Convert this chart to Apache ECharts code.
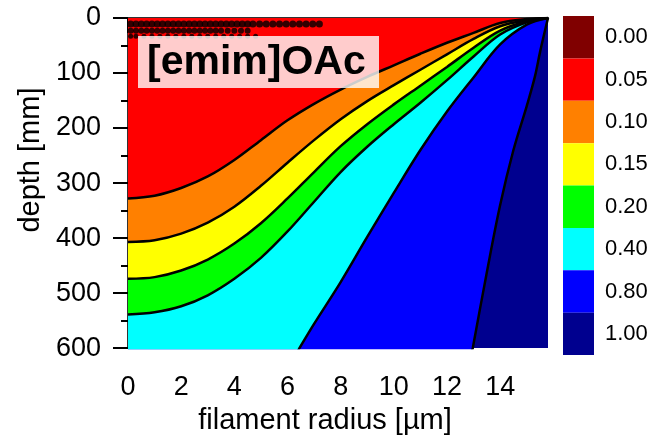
<!DOCTYPE html>
<html>
<head>
<meta charset="utf-8">
<title>[emim]OAc contour</title>
<script src="https://cdn.jsdelivr.net/npm/echarts@6/dist/echarts.min.js"></script>
<style>
    html, body { margin: 0; padding: 0; background: #fff; }
    #chart { width: 664px; height: 440px; }
</style>
</head>
<body>
<div id="chart"></div>
<script>
// radius grid (µm) for the four upper contour lines
var radius = [0, 1, 2, 3, 4, 5, 6, 7, 8, 9, 10, 11, 12, 13, 14, 15, 15.8];
// depth (mm) of each contour line
var depthRedOrange    = [328, 323, 309, 288, 258, 222, 186, 156, 130, 107, 86, 65, 45, 27, 9, 2, 0];
var depthOrangeYellow = [407, 404, 392, 372, 343, 305, 263, 222, 184, 151, 122, 94, 66, 38, 15, 4, 0];
var depthYellowGreen  = [474, 471, 459, 439, 410, 373, 328, 280, 233, 193, 157, 123, 89, 54, 23, 6, 0];
var depthGreenCyan    = [539, 535, 524, 504, 474, 436, 388, 334, 280, 234, 193, 154, 113, 70, 30, 8, 0];

// the two lines that leave the bottom edge (first two points sit below the frame and get clipped)
var radiusCyanBlue = [0, 5.83, 6.45, 7, 8, 9, 10, 11, 12, 13, 14, 15, 15.8];
var depthCyanBlue  = [650, 650, 600, 556, 480, 398, 318, 240, 170, 108, 48, 12, 0];
var radiusBlueNavy = [0, 12.78, 12.97, 13.5, 14, 14.5, 15, 15.3, 15.5, 15.7, 15.8];
var depthBlueNavy  = [650, 650, 600, 462, 340, 240, 160, 108, 62, 20, 0];

// dotted artefacts along the top edge
var dotsRow1 = [0.1, 0.3, 0.5, 0.7, 0.9, 1.1, 1.3, 1.5, 1.7, 1.9, 2.1, 2.3, 2.5, 2.7, 2.9, 3.1, 3.3, 3.5, 3.7, 3.9, 4.1, 4.3, 4.5, 4.7, 4.95, 5.2, 5.45, 5.7, 5.95, 6.2, 6.45, 6.7, 6.95, 7.2];
var dotsRow2 = [0.1, 0.3, 0.5, 0.7, 0.9, 1.1, 1.3, 1.5, 1.7, 1.9, 2.1, 2.3, 2.5, 2.7, 2.9, 3.1, 3.3, 3.5, 3.75, 4.0, 4.25, 4.5];
var dotsRow3 = [0.1, 0.3, 0.6, 0.9, 1.2, 1.5, 1.8, 2.1, 2.4, 2.7, 3.0, 3.3, 3.6, 3.9, 4.2, 4.5, 4.8];

// colour scale
var levelLabels = ['0.00', '0.05', '0.10', '0.15', '0.20', '0.40', '0.80', '1.00'];
var levelColors = ['#800000', '#ff0000', '#ff8000', '#ffff00', '#00ff00', '#00ffff', '#0000ff', '#00008f'];

// axis ticks
var xMajorTicks = [0, 2, 4, 6, 8, 10, 12, 14];
var xMinorTicks = [1, 3, 5, 7, 9, 11, 13, 15];
var xMax = 15.8;
var yMax = 600;

var font = "'Liberation Sans', Arial, sans-serif";

function pairs(xs, ys) {
    return xs.map(function (x, i) { return [x, ys[i]]; });
}
function row(xs, d) {
    return xs.map(function (x) { return [x, d]; });
}

function areaSeries(xs, ys, color) {
    return {
        type: 'line',
        xAxisIndex: 0,
        yAxisIndex: 0,
        data: pairs(xs, ys),
        symbol: 'none',
        smooth: 0.35,
        lineStyle: { color: '#000', width: 2.5 },
        areaStyle: { color: color, opacity: 1, origin: 'start' },
        silent: true
    };
}

function dotSeries(xs, d, size) {
    return {
        type: 'scatter',
        xAxisIndex: 0,
        yAxisIndex: 0,
        z: 5,
        data: row(xs, d),
        symbol: 'circle',
        symbolSize: size,
        itemStyle: { color: '#000' },
        silent: true
    };
}

var chart = echarts.init(document.getElementById('chart'));

var option = {
    animation: false,
    textStyle: { fontFamily: font },
    grid: [
        { left: 128, top: 18, width: 420, height: 333, show: true, backgroundColor: levelColors[7], borderWidth: 0 },
        { left: 563, top: 16, width: 31, height: 339 }
    ],
    xAxis: [
        {
            type: 'value', gridIndex: 0, position: 'bottom', min: 0, max: xMax,
            name: 'filament radius [µm]', nameLocation: 'middle', nameGap: 54,
            nameTextStyle: { fontSize: 29, color: '#000', fontFamily: font, padding: [0, 26, 0, 0] },
            axisLine: { lineStyle: { color: '#000', width: 2 } },
            axisTick: { customValues: xMajorTicks, length: 15, lineStyle: { color: '#000', width: 2 } },
            axisLabel: { customValues: xMajorTicks, fontSize: 27, color: '#000', margin: 26, fontFamily: font },
            splitLine: { show: false }
        },
        {
            type: 'value', gridIndex: 0, position: 'bottom', min: 0, max: xMax,
            axisLine: { show: false },
            axisTick: { customValues: xMinorTicks, length: 7, lineStyle: { color: '#000', width: 2 } },
            axisLabel: { show: false },
            splitLine: { show: false }
        },
        {
            type: 'value', gridIndex: 0, position: 'top', min: 0, max: xMax,
            axisLine: { lineStyle: { color: '#333', width: 2 } },
            axisTick: { show: false }, axisLabel: { show: false }, splitLine: { show: false }
        },
        { type: 'value', gridIndex: 1, min: 0, max: 1, show: false }
    ],
    yAxis: [
        {
            type: 'value', gridIndex: 0, position: 'left', inverse: true, min: 0, max: yMax, interval: 100,
            name: 'depth [mm]', nameLocation: 'middle', nameGap: 76,
            nameTextStyle: { fontSize: 29, color: '#000', fontFamily: font, padding: [0, 0, 0, 46] },
            axisLine: { lineStyle: { color: '#000', width: 2 } },
            axisTick: { length: 15, lineStyle: { color: '#000', width: 2 } },
            minorTick: { show: true, splitNumber: 2, length: 7, lineStyle: { color: '#000', width: 2 } },
            axisLabel: { fontSize: 27, color: '#000', margin: 27, fontFamily: font },
            splitLine: { show: false },
            minorSplitLine: { show: false }
        },
        {
            type: 'value', gridIndex: 0, position: 'right', inverse: true, min: 0, max: yMax,
            axisLine: { show: true, lineStyle: { color: '#333', width: 2 } },
            axisTick: { show: false }, axisLabel: { show: false }, splitLine: { show: false }
        },
        {
            type: 'category', gridIndex: 1, position: 'right', inverse: true, data: levelLabels,
            axisLine: { show: false }, axisTick: { show: false },
            axisLabel: { fontSize: 22, color: '#000', margin: 11, fontFamily: font }
        }
    ],
    graphic: [
        {
            type: 'rect', left: 138, top: 36, z: 100,
            shape: { width: 241, height: 52 },
            style: { fill: 'rgba(255,255,255,0.8)' }
        },
        {
            type: 'text', left: 147, top: 42, z: 101,
            style: {
                text: '[emim]OAc', fontSize: 41, fontWeight: 'bold', fontFamily: font, fill: '#000'
            }
        }
    ],
    series: [
        areaSeries(radiusBlueNavy, depthBlueNavy, levelColors[6]),
        areaSeries(radiusCyanBlue, depthCyanBlue, levelColors[5]),
        areaSeries(radius, depthGreenCyan, levelColors[4]),
        areaSeries(radius, depthYellowGreen, levelColors[3]),
        areaSeries(radius, depthOrangeYellow, levelColors[2]),
        areaSeries(radius, depthRedOrange, levelColors[1]),
        dotSeries(dotsRow1, 11, 7),
        dotSeries(dotsRow2, 23, 6),
        dotSeries(dotsRow3, 33, 5),
        {
            type: 'bar',
            xAxisIndex: 3,
            yAxisIndex: 2,
            barWidth: '100%',
            barCategoryGap: '0%',
            silent: true,
            data: levelLabels.map(function (l, i) {
                return { value: 1, itemStyle: { color: levelColors[i] } };
            })
        }
    ]
};

chart.setOption(option);
</script>
</body>
</html>
